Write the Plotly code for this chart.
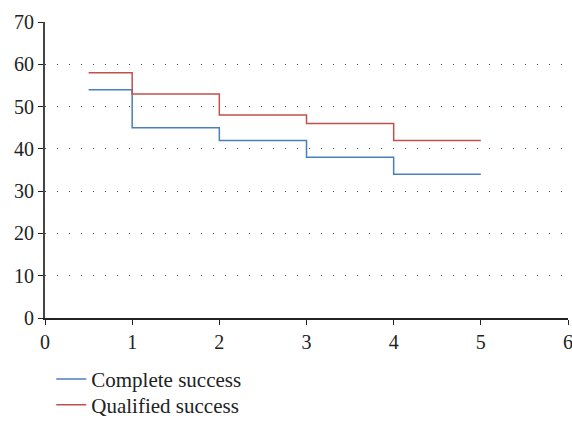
import plotly.graph_objects as go

x_vals = [0.5, 1, 2, 3, 4, 5]
complete = [54, 45, 42, 38, 34, 34]
qualified = [58, 53, 48, 46, 42, 42]
x_ticks = [0, 1, 2, 3, 4, 5, 6]
y_ticks = [0, 10, 20, 30, 40, 50, 60, 70]

font = "Liberation Serif, DejaVu Serif, serif"
fig = go.Figure()
fig.add_trace(go.Scatter(x=x_vals, y=complete, mode="lines", line_shape="hv",
                         line=dict(color="#4a7ebf", width=1.5), name="Complete success",
                         legend="legend"))
fig.add_trace(go.Scatter(x=x_vals, y=qualified, mode="lines", line_shape="hv",
                         line=dict(color="#c0504d", width=1.5), name="Qualified success",
                         legend="legend2"))

leg_common = dict(orientation="v", xanchor="left", yanchor="top", x=0.012,
                  font=dict(size=21), itemwidth=30, bgcolor="rgba(0,0,0,0)")

fig.update_layout(
    width=572, height=430,
    margin=dict(l=45, r=4, t=22, b=98),
    plot_bgcolor="white", paper_bgcolor="white",
    font=dict(family=font, size=20, color="#222"),
    showlegend=True,
    legend=dict(y=-0.138, **leg_common),
    legend2=dict(y=-0.225, **leg_common),
    xaxis=dict(range=[0, 6], tickvals=x_ticks, showgrid=False,
               showline=True, linecolor="#222", linewidth=1.5, ticks="outside",
               ticklen=5, tickcolor="#222", zeroline=False, automargin=False,
               ticklabeloverflow="allow"),
    yaxis=dict(range=[0, 70], tickvals=y_ticks,
               showgrid=True, gridcolor="#444", griddash="1px,11px", gridwidth=1,
               showline=True, linecolor="#444", linewidth=2, ticks="outside",
               ticklen=5, tickcolor="#222", zeroline=False, automargin=False),
)
fig.write_html("out.html", config={"displayModeBar": False},
               post_script="document.body.style.margin='0';document.body.style.overflow='hidden';")
